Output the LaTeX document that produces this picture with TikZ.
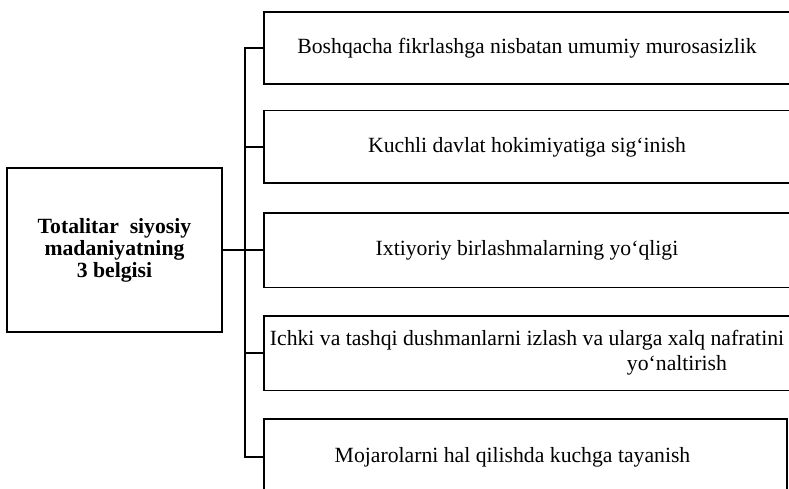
\documentclass[tikz,border=0pt]{standalone}
\usepackage{fontspec}
\setmainfont{Liberation Serif}
\begin{document}
\begin{tikzpicture}[x=1pt,y=-1pt, line width=1.6pt,
  box/.style={minimum width=524pt, inner sep=0pt, font=\fontsize{21.7}{25}\selectfont, align=center},
  mainbox/.style={draw, minimum width=215pt, minimum height=164pt, inner sep=0pt, font=\bfseries\fontsize{21.7}{22}\selectfont, align=center}]
\clip (0,0) rectangle (789,489);
\useasboundingbox (0,0) rectangle (789,489);

\node[mainbox] (L) at (114.5,250) {Totalitar \ siyosiy\\madaniyatning\\3 belgisi};

\node[box, minimum height=70pt] (b1) at (527,48) {Boshqacha fikrlashga nisbatan umumiy murosasizlik};
\node[box, minimum height=71pt] (b2) at (527,147) {Kuchli davlat hokimiyatiga sig‘inish};
\node[box, minimum height=73pt] (b3) at (527,250) {Ixtiyoriy birlashmalarning yo‘qligi};
\node[box, minimum height=73pt] (b4) at (527,353) {Ichki va tashqi dushmanlarni izlash va ularga xalq nafratini\\\hspace*{300pt}yo‘naltirish};
\node[box, minimum width=521pt, minimum height=74pt] (b5) at (525.5,457) {\hspace*{-26pt}Mojarolarni hal qilishda kuchga tayanish};

\foreach \b in {b1,b2,b3,b4}
  \draw (\b.north east) -- (\b.north west) -- (\b.south west) -- (\b.south east);
\draw (b5.south west) rectangle (b5.north east);

\coordinate (t) at (245,0);
\draw (b1.west) -| (t |- b5.west) -- (b5.west);
\foreach \b in {b2,b4}
  \draw (\b.west) -- (t |- \b.west);
\draw (L.east) -- (b3.west);
\end{tikzpicture}
\end{document}
